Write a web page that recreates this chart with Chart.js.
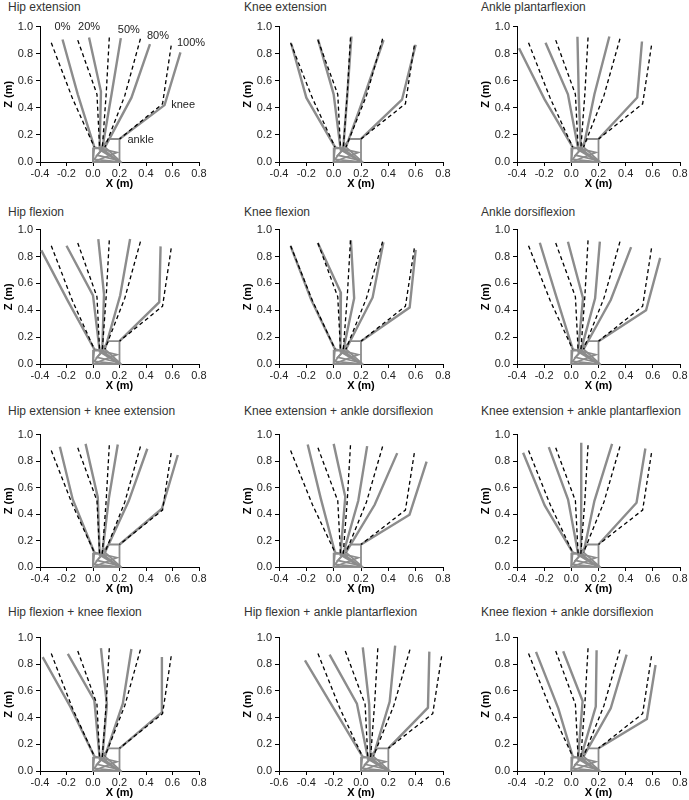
<!DOCTYPE html>
<html lang="en">
<head>
<meta charset="UTF-8">
<title>Leg configurations</title>
<script src="https://cdn.jsdelivr.net/npm/chart.js"></script>
<style>
  * { margin: 0; padding: 0; box-sizing: border-box; }
  body { width: 689px; height: 800px; background: #fff; position: relative; overflow: hidden; font-family: 'Liberation Sans', Arial, sans-serif; }
  .panel { position: absolute; }
  .ttl { position: absolute; font-size: 12px; font-weight: 400; color: #333; white-space: nowrap; }
</style>
</head>
<body>
<script>
// panel titles and x ranges
const titles = ['Hip extension', 'Knee extension', 'Ankle plantarflexion',
  'Hip flexion', 'Knee flexion', 'Ankle dorsiflexion',
  'Hip extension + knee extension', 'Knee extension + ankle dorsiflexion', 'Knee extension + ankle plantarflexion',
  'Hip flexion + knee flexion', 'Hip flexion + ankle plantarflexion', 'Knee flexion + ankle dorsiflexion'];
const xMins = [-0.4, -0.4, -0.4, -0.4, -0.4, -0.4, -0.4, -0.4, -0.4, -0.4, -0.6, -0.4];
const xMaxs = [0.8, 0.8, 0.8, 0.8, 0.8, 0.8, 0.8, 0.8, 0.8, 0.8, 0.6, 0.8];

// stance phases
const phases = ['0%', '20%', '50%', '80%', '100%'];

// baseline (dashed) joint positions, metres
const baseHipX = [-0.315, -0.115, 0.123, 0.358, 0.59];
const baseHipZ = [0.88, 0.90, 0.92, 0.91, 0.86];
const baseKneeX = [-0.155, 0.03, 0.10, 0.24, 0.525];
const baseKneeZ = [0.47, 0.50, 0.51, 0.49, 0.43];

// ankle, shared
const ankleX = [0.01, 0.05, 0.07, 0.09, 0.20];
const ankleZ = [0.11, 0.10, 0.10, 0.11, 0.17];

// foot outlines per phase
const footX = [
  [0.01, 0.00, 0.18, 0.01],
  [0.05, 0.00, 0.00, 0.20, 0.05],
  [0.07, 0.01, 0.20, 0.07],
  [0.09, 0.03, 0.20, 0.09],
  [0.20, 0.12, 0.05, 0.20, 0.20]
];
const footZ = [
  [0.11, 0.00, 0.07, 0.11],
  [0.10, 0.10, 0.00, 0.00, 0.10],
  [0.10, 0.02, 0.00, 0.10],
  [0.11, 0.05, 0.01, 0.11],
  [0.17, 0.17, 0.09, 0.00, 0.17]
];

// modified (grey) joint positions, one row per panel
const hipX = [
  [-0.23, -0.03, 0.21, 0.43, 0.66],
  [-0.31, -0.115, 0.13, 0.365, 0.60],
  [-0.385, -0.19, 0.045, 0.28, 0.52],
  [-0.39, -0.20, 0.04, 0.28, 0.51],
  [-0.315, -0.116, 0.126, 0.364, 0.60],
  [-0.232, -0.025, 0.21, 0.44, 0.654],
  [-0.25, -0.056, 0.187, 0.41, 0.64],
  [-0.19, 0.00, 0.245, 0.465, 0.68],
  [-0.355, -0.166, 0.073, 0.30, 0.545],
  [-0.38, -0.19, 0.06, 0.29, 0.52],
  [-0.41, -0.23, 0.013, 0.25, 0.50],
  [-0.26, -0.06, 0.186, 0.407, 0.62]
];
const hipZ = [
  [0.905, 0.92, 0.915, 0.87, 0.81],
  [0.873, 0.907, 0.927, 0.90, 0.866],
  [0.84, 0.88, 0.925, 0.927, 0.89],
  [0.845, 0.88, 0.93, 0.93, 0.875],
  [0.877, 0.90, 0.92, 0.905, 0.85],
  [0.902, 0.91, 0.91, 0.87, 0.79],
  [0.908, 0.93, 0.925, 0.893, 0.846],
  [0.925, 0.93, 0.913, 0.86, 0.796],
  [0.863, 0.905, 0.938, 0.93, 0.895],
  [0.854, 0.878, 0.922, 0.915, 0.854],
  [0.83, 0.873, 0.927, 0.94, 0.895],
  [0.893, 0.898, 0.905, 0.873, 0.795]
];
const kneeX = [
  [-0.115, 0.06, 0.14, 0.29, 0.54],
  [-0.20, 0.00, 0.10, 0.22, 0.50],
  [-0.197, -0.025, 0.055, 0.17, 0.485],
  [-0.19, 0.00, 0.083, 0.205, 0.50],
  [-0.165, 0.053, 0.15, 0.285, 0.556],
  [-0.11, 0.086, 0.175, 0.29, 0.55],
  [-0.153, 0.036, 0.12, 0.27, 0.52],
  [-0.095, 0.085, 0.18, 0.30, 0.555],
  [-0.196, -0.024, 0.073, 0.17, 0.48],
  [-0.17, 0.01, 0.105, 0.225, 0.52],
  [-0.20, -0.03, 0.06, 0.21, 0.49],
  [-0.096, 0.083, 0.18, 0.29, 0.556]
];
const kneeZ = [
  [0.50, 0.52, 0.50, 0.475, 0.42],
  [0.475, 0.50, 0.50, 0.476, 0.46],
  [0.463, 0.50, 0.475, 0.50, 0.476],
  [0.47, 0.51, 0.52, 0.51, 0.46],
  [0.48, 0.53, 0.49, 0.495, 0.42],
  [0.50, 0.49, 0.488, 0.476, 0.40],
  [0.51, 0.527, 0.52, 0.50, 0.44],
  [0.52, 0.53, 0.50, 0.47, 0.395],
  [0.465, 0.51, 0.50, 0.50, 0.485],
  [0.48, 0.53, 0.50, 0.505, 0.44],
  [0.47, 0.505, 0.50, 0.52, 0.475],
  [0.47, 0.525, 0.483, 0.47, 0.39]
];

// notes in the first panel
const noteText = ['0%', '20%', '50%', '80%', '100%', 'knee', 'ankle'];
const noteX = [-0.23, -0.03, 0.27, 0.49, 0.74, 0.59, 0.26];
const noteZ = [1.0, 1.0, 0.975, 0.93, 0.88, 0.42, 0.165];

// page layout of the plot boxes
const plotL = [40, 279, 517], plotR = [199, 443, 680];
const plotT = [25, 228, 433, 636], plotB = [162, 364, 567, 771];
const titleL = [8, 244, 481], titleY = [8, 213, 412, 613];
const YW = 40, PT = 8, PR = 10, XH = 29;

const GREY = '#8c8c8c';

const notePlugin = {
  id: 'notes',
  afterDatasetsDraw(chart, args, opts) {
    if (!opts.show) return;
    const ctx = chart.ctx, sx = chart.scales.x, sy = chart.scales.y;
    ctx.save();
    ctx.font = '11px "Liberation Sans", Arial, sans-serif';
    ctx.fillStyle = '#222';
    ctx.textBaseline = 'middle';
    noteText.forEach((t, i) => {
      ctx.textAlign = i < 5 ? 'center' : 'left';
      ctx.fillText(t, sx.getPixelForValue(noteX[i]), sy.getPixelForValue(noteZ[i]));
    });
    ctx.restore();
  }
};

function fmt(v) {
  return Math.abs(v) < 1e-9 ? '0.0' : v.toFixed(1);
}

function pts(xs, zs) {
  return xs.map((x, i) => ({ x: x, y: zs[i] }));
}

titles.forEach((title, p) => {
  const col = p % 3, row = Math.floor(p / 3);

  const t = document.createElement('div');
  t.className = 'ttl';
  t.textContent = title;
  t.style.left = titleL[col] + 'px';
  t.style.top = (titleY[row] - 8) + 'px';
  document.body.appendChild(t);

  const w = plotR[col] - plotL[col] + YW + PR;
  const h = plotB[row] - plotT[row] + PT + XH;
  const box = document.createElement('div');
  box.className = 'panel';
  box.style.left = (plotL[col] - YW) + 'px';
  box.style.top = (plotT[row] - PT) + 'px';
  box.style.width = w + 'px';
  box.style.height = h + 'px';
  const cv = document.createElement('canvas');
  box.appendChild(cv);
  document.body.appendChild(box);

  const datasets = [];
  phases.forEach((ph, i) => {
    datasets.push({
      label: 'baseline ' + ph,
      data: pts([baseHipX[i], baseKneeX[i], ankleX[i]], [baseHipZ[i], baseKneeZ[i], ankleZ[i]]),
      borderColor: '#000', borderWidth: 1.3, borderDash: [4, 3], order: 0
    });
    datasets.push({
      label: 'leg ' + ph,
      data: pts([hipX[p][i], kneeX[p][i], ankleX[i]], [hipZ[p][i], kneeZ[p][i], ankleZ[i]]),
      borderColor: GREY, borderWidth: 2.4, order: 1
    });
    datasets.push({
      label: 'foot ' + ph,
      data: pts(footX[i], footZ[i]),
      borderColor: GREY, borderWidth: 1.8, order: 1
    });
  });
  datasets.forEach(d => {
    d.showLine = true; d.pointRadius = 0; d.fill = false; d.tension = 0; d.clip = false;
  });

  new Chart(cv, {
    type: 'scatter',
    data: { datasets: datasets },
    plugins: [notePlugin],
    options: {
      responsive: true,
      maintainAspectRatio: false,
      animation: false,
      events: [],
      layout: { padding: { left: 0, top: PT, right: PR, bottom: 0 } },
      plugins: {
        legend: { display: false },
        tooltip: { enabled: false },
        notes: { show: p === 0 }
      },
      scales: {
        x: {
          type: 'linear', min: xMins[p], max: xMaxs[p],
          afterFit: s => { s.height = XH; },
          border: { color: '#000', width: 1 },
          grid: { drawOnChartArea: false, drawTicks: true, tickLength: 4, color: '#000' },
          ticks: { stepSize: 0.2, padding: 1, color: '#222', font: { size: 11, family: '"Liberation Sans", Arial' }, maxRotation: 0, callback: fmt },
          title: { display: true, text: 'X (m)', color: '#000', padding: { top: 0, bottom: 0 }, font: { size: 11, weight: 'bold', family: '"Liberation Sans", Arial' } }
        },
        y: {
          type: 'linear', min: 0, max: 1.0,
          afterFit: s => { s.width = YW; },
          border: { color: '#000', width: 1 },
          grid: { drawOnChartArea: false, drawTicks: true, tickLength: 4, color: '#000' },
          ticks: { stepSize: 0.2, padding: 3, color: '#222', font: { size: 11, family: '"Liberation Sans", Arial' }, callback: fmt },
          title: { display: true, text: 'Z (m)', color: '#000', padding: { top: 2, bottom: 0 }, font: { size: 11, weight: 'bold', family: '"Liberation Sans", Arial' } }
        }
      }
    }
  });
});
</script>
</body>
</html>
